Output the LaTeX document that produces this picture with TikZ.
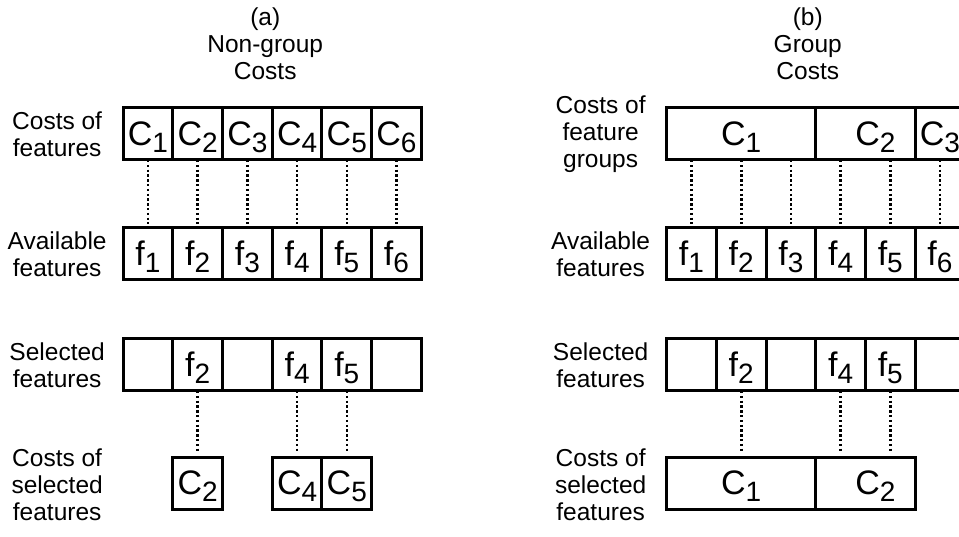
\documentclass[tikz,border=0pt]{standalone}
\usepackage{fontspec}
\setmainfont{Liberation Sans}
\usetikzlibrary{positioning}
\newcommand{\idx}[1]{\raisebox{-7pt}{\fontsize{28}{28}\selectfont #1}}

\begin{document}
\begin{tikzpicture}[x=1pt, y=1pt, node distance=0pt,
        cell/.style={rectangle, draw=black, line width=3pt, outer sep=0pt, inner sep=0pt, minimum width=49.7pt, minimum height=52pt, text height=27pt, text depth=4pt, font=\fontsize{34}{34}\selectfont},
        wide/.style={cell, minimum width=149.1pt},
        mid/.style={cell, minimum width=99.4pt},
        rowlabel/.style={align=center, inner sep=0pt, font=\fontsize{24.5}{27}\selectfont},
        link/.style={draw=black, line width=2.6pt, dash pattern=on 2.4pt off 2.4pt, shorten >=4pt}]

        \useasboundingbox (0,0) rectangle (959,536);
        \clip (0,0) rectangle (959,536);

        % Panel (a): costos sin grupos
        \node [cell] (c1) at (148,402) {C\idx{1}};
        \node [cell, right=of c1] (c2) {C\idx{2}};
        \node [cell, right=of c2] (c3) {C\idx{3}};
        \node [cell, right=of c3] (c4) {C\idx{4}};
        \node [cell, right=of c4] (c5) {C\idx{5}};
        \node [cell, right=of c5] (c6) {C\idx{6}};

        \node [cell, below=68pt of c1] (f1) {f\idx{1}};
        \node [cell, right=of f1] (f2) {f\idx{2}};
        \node [cell, right=of f2] (f3) {f\idx{3}};
        \node [cell, right=of f3] (f4) {f\idx{4}};
        \node [cell, right=of f4] (f5) {f\idx{5}};
        \node [cell, right=of f5] (f6) {f\idx{6}};

        \node [cell, below=59pt of f1] (s1) {};
        \node [cell, right=of s1] (s2) {f\idx{2}};
        \node [cell, right=of s2] (s3) {};
        \node [cell, right=of s3] (s4) {f\idx{4}};
        \node [cell, right=of s4] (s5) {f\idx{5}};
        \node [cell, right=of s5] (s6) {};

        \node [cell, below=66pt of s2] (k2) {C\idx{2}};
        \node [cell, below=66pt of s4] (k4) {C\idx{4}};
        \node [cell, right=of k4] (k5) {C\idx{5}};

        \node [rowlabel, above=28pt of c3.north east, xshift=-7pt] (titlea) {(a)\\Non-group\\Costs};
        \node [rowlabel] (lca) at ([xshift=-66pt]c1.west) {Costs of\\features};
        \node [rowlabel] (lfa) at ([xshift=-66pt]f1.west) {Available\\features};
        \node [rowlabel] (lsa) at ([xshift=-66pt]s1.west) {Selected\\features};
        \node [rowlabel] (lka) at ([xshift=-66pt,yshift=-2pt]s1.west |- k2) {Costs of\\selected\\features};

        \path [link] (c1) -- (f1);
        \path [link] (c2) -- (f2);
        \path [link] (c3) -- (f3);
        \path [link] (c4) -- (f4);
        \path [link] (c5) -- (f5);
        \path [link] (c6) -- (f6);
        \path [link] (s2) -- (k2);
        \path [link] (s4) -- (k4);
        \path [link] (s5) -- (k5);

        % Panel (b): costos por grupos
        \node [cell] (fb1) at (691.5,282) {f\idx{1}};
        \node [cell, right=of fb1] (fb2) {f\idx{2}};
        \node [cell, right=of fb2] (fb3) {f\idx{3}};
        \node [cell, right=of fb3] (fb4) {f\idx{4}};
        \node [cell, right=of fb4] (fb5) {f\idx{5}};
        \node [cell, right=of fb5] (fb6) {f\idx{6}};

        \node [wide, above=68pt of fb2] (gb1) {C\idx{1}};
        \node [mid, right=of gb1] (gb2) {\hspace*{20pt}C\idx{2}};
        \node [cell, right=of gb2] (gb3) {C\idx{3}};

        \node [cell, below=59pt of fb1] (sb1) {};
        \node [cell, right=of sb1] (sb2) {f\idx{2}};
        \node [cell, right=of sb2] (sb3) {};
        \node [cell, right=of sb3] (sb4) {f\idx{4}};
        \node [cell, right=of sb4] (sb5) {f\idx{5}};
        \node [cell, right=of sb5] (sb6) {};

        \node [wide, below=66pt of sb2] (kb1) {C\idx{1}};
        \node [mid, right=of kb1] (kb2) {\hspace*{20pt}C\idx{2}};

        \node [rowlabel, above=28pt of gb1.north east, xshift=-8pt] (titleb) {(b)\\Group\\Costs};
        \node [rowlabel] (lgb) at ([xshift=-66pt]gb1.west) {Costs of\\feature\\groups};
        \node [rowlabel] (lfb) at ([xshift=-66pt]fb1.west) {Available\\features};
        \node [rowlabel] (lsb) at ([xshift=-66pt]sb1.west) {Selected\\features};
        \node [rowlabel] (lkb) at ([xshift=-66pt,yshift=-2pt]kb1.west) {Costs of\\selected\\features};

        \path [link] (gb1.south -| fb1) -- (fb1);
        \path [link] (gb1.south -| fb2) -- (fb2);
        \path [link] (gb1.south -| fb3) -- (fb3);
        \path [link] (gb2.south -| fb4) -- (fb4);
        \path [link] (gb2.south -| fb5) -- (fb5);
        \path [link] (gb3.south -| fb6) -- (fb6);
        \path [link] (sb2) -- (kb1);
        \path [link] (sb4) -- (sb4 |- kb2.north);
        \path [link] (sb5) -- (sb5 |- kb2.north);
    \end{tikzpicture}
\end{document}
